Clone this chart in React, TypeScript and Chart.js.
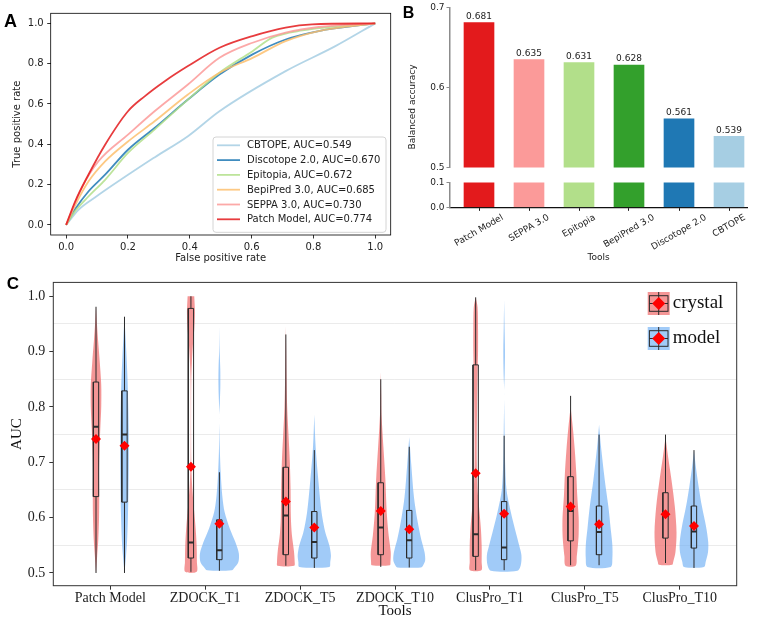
import React, { useEffect, useRef } from 'react';
import { Chart, registerables } from 'chart.js';

Chart.register(...registerables);

const SANS = '"DejaVu Sans", sans-serif';
const SERIF = '"Liberation Serif", "Times New Roman", serif';
const HEAD = '"Liberation Sans", Arial, sans-serif';

// ---------------- Panel A : ROC curves ----------------
const rocNames = ['CBTOPE', 'Discotope 2.0', 'Epitopia', 'BepiPred 3.0', 'SEPPA 3.0', 'Patch Model'];
const rocAuc = ['0.549', '0.670', '0.672', '0.685', '0.730', '0.774'];
const rocColors = [
  'rgba(166,206,227,0.85)',
  'rgba(31,120,180,0.85)',
  'rgba(178,223,138,0.85)',
  'rgba(253,191,111,0.85)',
  'rgba(251,154,153,0.85)',
  'rgba(227,26,28,0.85)',
];
const cbtopeFpr = [0, 0.04, 0.093, 0.286, 0.394, 0.496, 0.71, 0.871, 1];
const cbtopeTpr = [0, 0.075, 0.136, 0.335, 0.44, 0.564, 0.763, 0.887, 1];
const discotopeFpr = [0, 0.03, 0.072, 0.126, 0.2, 0.286, 0.394, 0.496, 0.603, 0.71, 0.817, 1];
const discotopeTpr = [0, 0.08, 0.166, 0.249, 0.373, 0.481, 0.622, 0.746, 0.846, 0.92, 0.962, 1];
const epitopiaFpr = [0, 0.03, 0.072, 0.126, 0.2, 0.286, 0.394, 0.496, 0.603, 0.667, 0.764, 1];
const epitopiaTpr = [0, 0.07, 0.141, 0.224, 0.357, 0.473, 0.622, 0.755, 0.862, 0.929, 0.965, 1];
const bepipredFpr = [0, 0.03, 0.072, 0.126, 0.2, 0.286, 0.394, 0.496, 0.603, 0.71, 0.817, 1];
const bepipredTpr = [0, 0.1, 0.215, 0.315, 0.414, 0.514, 0.647, 0.755, 0.829, 0.912, 0.962, 1];
const seppaFpr = [0, 0.05, 0.104, 0.2, 0.286, 0.394, 0.496, 0.603, 0.71, 0.817, 1];
const seppaTpr = [0, 0.183, 0.315, 0.448, 0.564, 0.697, 0.829, 0.904, 0.954, 0.982, 1];
const patchFpr = [0, 0.029, 0.072, 0.126, 0.2, 0.254, 0.319, 0.394, 0.496, 0.603, 0.71, 0.796, 1];
const patchTpr = [0, 0.116, 0.249, 0.398, 0.564, 0.638, 0.713, 0.788, 0.879, 0.937, 0.979, 0.995, 1];

// ---------------- Panel B : balanced accuracy ----------------
const barTools = ['Patch Model', 'SEPPA 3.0', 'Epitopia', 'BepiPred 3.0', 'Discotope 2.0', 'CBTOPE'];
const barAccuracy = [0.681, 0.635, 0.631, 0.628, 0.561, 0.539];
const barColors = ['#e31a1c', '#fb9a99', '#b2df8a', '#33a02c', '#1f78b4', '#a6cee3'];
const upperRange = [0.5, 0.7];
const lowerRange = [0.0, 0.1];

// ---------------- Panel C : violins ----------------
const violinTools = ['Patch Model', 'ZDOCK_T1', 'ZDOCK_T5', 'ZDOCK_T10', 'ClusPro_T1', 'ClusPro_T5', 'ClusPro_T10'];
const crystalMean = [0.742, 0.692, 0.629, 0.612, 0.68, 0.62, 0.606];
const crystalMedian = [0.764, 0.555, 0.604, 0.582, 0.57, 0.612, 0.603];
const crystalQ1 = [0.638, 0.527, 0.533, 0.533, 0.53, 0.558, 0.563];
const crystalQ3 = [0.845, 0.978, 0.691, 0.663, 0.876, 0.674, 0.645];
const crystalMin = [0.5, 0.502, 0.513, 0.511, 0.505, 0.514, 0.518];
const crystalMax = [0.981, 1.0, 0.931, 0.85, 0.998, 0.82, 0.75];
const modelMean = [0.73, 0.589, 0.582, 0.579, 0.607, 0.588, 0.585];
const modelMedian = [0.75, 0.541, 0.556, 0.559, 0.546, 0.574, 0.575];
const modelQ1 = [0.628, 0.524, 0.527, 0.527, 0.524, 0.533, 0.545];
const modelQ3 = [0.829, 0.596, 0.611, 0.613, 0.629, 0.621, 0.621];
const modelMin = [0.5, 0.504, 0.509, 0.51, 0.505, 0.514, 0.509];
const modelMax = [0.963, 0.682, 0.722, 0.728, 0.748, 0.75, 0.722];

// density half-widths [AUC, half width]
const pmCrystal = [[0.981, 0], [0.95, 0.01], [0.92, 0.022], [0.88, 0.04], [0.84, 0.055], [0.8, 0.055], [0.76, 0.045], [0.72, 0.036], [0.68, 0.032], [0.64, 0.034], [0.6, 0.032], [0.56, 0.024], [0.53, 0.012], [0.5, 0]];
const pmModel = [[0.963, 0], [0.93, 0.01], [0.89, 0.022], [0.85, 0.032], [0.8, 0.04], [0.75, 0.045], [0.7, 0.045], [0.65, 0.042], [0.6, 0.036], [0.56, 0.028], [0.53, 0.016], [0.5, 0]];
const z1Crystal = [[1.0, 0.035], [0.97, 0.042], [0.94, 0.035], [0.91, 0.02], [0.88, 0.01], [0.85, 0.004], [0.8, 0.002], [0.75, 0.002], [0.7, 0.004], [0.66, 0.012], [0.62, 0.03], [0.58, 0.05], [0.55, 0.06], [0.52, 0.063], [0.502, 0.06]];
const z1Model = [[0.946, 0], [0.9, 0.003], [0.87, 0.009], [0.84, 0.01], [0.81, 0.005], [0.785, 0], [0.76, 0.001], [0.72, 0.005], [0.68, 0.014], [0.64, 0.03], [0.61, 0.055], [0.58, 0.11], [0.555, 0.17], [0.535, 0.205], [0.52, 0.2], [0.51, 0.16], [0.505, 0.13]];
const z5Crystal = [[0.946, 0], [0.9, 0.004], [0.85, 0.008], [0.8, 0.014], [0.75, 0.028], [0.7, 0.042], [0.65, 0.05], [0.6, 0.053], [0.57, 0.063], [0.54, 0.085], [0.52, 0.093], [0.513, 0.088]];
const z5Model = [[0.786, 0], [0.727, 0.014], [0.668, 0.042], [0.609, 0.077], [0.573, 0.116], [0.55, 0.158], [0.532, 0.175], [0.52, 0.168], [0.511, 0.158]];
const z10Crystal = [[0.863, 0], [0.82, 0.005], [0.786, 0.008], [0.727, 0.028], [0.668, 0.049], [0.609, 0.063], [0.567, 0.084], [0.538, 0.105], [0.52, 0.102], [0.514, 0.095]];
const z10Model = [[0.745, 0], [0.697, 0.021], [0.638, 0.049], [0.597, 0.084], [0.561, 0.126], [0.538, 0.161], [0.523, 0.168], [0.514, 0.147], [0.51, 0.123]];
const c1Crystal = [[0.998, 0], [0.98, 0.02], [0.94, 0.025], [0.9, 0.025], [0.86, 0.02], [0.8, 0.015], [0.75, 0.012], [0.7, 0.012], [0.65, 0.02], [0.62, 0.035], [0.58, 0.055], [0.55, 0.063], [0.52, 0.063], [0.505, 0.06]];
const c1Model = [[0.993, 0], [0.95, 0.004], [0.9, 0.009], [0.86, 0.006], [0.83, 0], [0.8, 0.001], [0.75, 0.005], [0.7, 0.01], [0.65, 0.025], [0.61, 0.07], [0.573, 0.123], [0.55, 0.158], [0.532, 0.182], [0.514, 0.175], [0.504, 0.14]];
const c5Crystal = [[0.8, 0], [0.76, 0.025], [0.72, 0.045], [0.68, 0.06], [0.64, 0.07], [0.6, 0.085], [0.57, 0.085], [0.55, 0.077], [0.53, 0.065], [0.513, 0.053]];
const c5Model = [[0.768, 0], [0.727, 0.021], [0.668, 0.06], [0.62, 0.098], [0.579, 0.123], [0.55, 0.14], [0.526, 0.14], [0.511, 0.123]];
const c10Crystal = [[0.745, 0], [0.709, 0.028], [0.668, 0.063], [0.62, 0.098], [0.573, 0.116], [0.538, 0.105], [0.52, 0.081], [0.515, 0.07]];
const c10Model = [[0.721, 0], [0.69, 0.021], [0.656, 0.049], [0.62, 0.084], [0.585, 0.126], [0.556, 0.15], [0.538, 0.148], [0.52, 0.123], [0.511, 0.105]];

const crystalProfiles = [pmCrystal, z1Crystal, z5Crystal, z10Crystal, c1Crystal, c5Crystal, c10Crystal];
const modelProfiles = [pmModel, z1Model, z5Model, z10Model, c1Model, c5Model, c10Model];

const CRYSTAL_FILL = 'rgba(240,110,110,0.72)';
const MODEL_FILL = 'rgba(110,175,245,0.65)';

// ---------------- helpers ----------------
const letterPlugin = (text: string, x: number, y: number, size: number) => ({
  id: 'letter' + text,
  afterDraw(chart: any) {
    const ctx = chart.ctx;
    ctx.save();
    ctx.font = `bold ${size}px ${HEAD}`;
    ctx.fillStyle = '#000';
    ctx.textAlign = 'left';
    ctx.textBaseline = 'alphabetic';
    ctx.fillText(text, x, y);
    ctx.restore();
  },
});

const framePlugin = (color: string, width: number) => ({
  id: 'frame',
  afterDraw(chart: any) {
    const { left, top, right, bottom } = chart.chartArea;
    const ctx = chart.ctx;
    ctx.save();
    ctx.strokeStyle = color;
    ctx.lineWidth = width;
    ctx.strokeRect(left, top, right - left, bottom - top);
    ctx.restore();
  },
});

const fix1 = (v: any) => Number(v).toFixed(1);

// ---------------- configs ----------------
function makeRoc() {
  const fprs = [cbtopeFpr, discotopeFpr, epitopiaFpr, bepipredFpr, seppaFpr, patchFpr];
  const tprs = [cbtopeTpr, discotopeTpr, epitopiaTpr, bepipredTpr, seppaTpr, patchTpr];
  const legendPlugin = {
    id: 'rocLegend',
    afterDraw(chart: any) {
      const ca = chart.chartArea;
      const ctx = chart.ctx;
      const w = 173, h = 95.3;
      const x0 = ca.right - 4.7 - w;
      const y0 = ca.bottom - 2.7 - h;
      ctx.save();
      ctx.beginPath();
      if (ctx.roundRect) ctx.roundRect(x0, y0, w, h, 3); else ctx.rect(x0, y0, w, h);
      ctx.fillStyle = 'rgba(255,255,255,0.85)';
      ctx.fill();
      ctx.strokeStyle = '#d4d4d4';
      ctx.lineWidth = 1;
      ctx.stroke();
      ctx.font = `10px ${SANS}`;
      ctx.textBaseline = 'middle';
      ctx.textAlign = 'left';
      chart.data.datasets.forEach((ds: any, i: number) => {
        const y = y0 + 8.3 + i * 14.8;
        ctx.strokeStyle = ds.borderColor;
        ctx.lineWidth = 1.8;
        ctx.beginPath();
        ctx.moveTo(x0 + 4, y);
        ctx.lineTo(x0 + 27, y);
        ctx.stroke();
        ctx.fillStyle = '#222';
        ctx.fillText(ds.label, x0 + 34, y + 0.5);
      });
      ctx.restore();
    },
  };
  const axisCommon = {
    type: 'linear',
    min: -0.05,
    max: 1.05,
    border: { display: false },
    grid: { display: true, drawOnChartArea: false, drawTicks: true, tickLength: 3.5, tickColor: '#000', tickWidth: 0.8 },
  };
  return {
    type: 'line',
    data: {
      datasets: rocNames.map((n, i) => ({
        label: `${n}, AUC=${rocAuc[i]}`,
        data: fprs[i].map((x, j) => ({ x, y: tprs[i][j] })),
        borderColor: rocColors[i],
        backgroundColor: rocColors[i],
        borderWidth: 1.8,
        pointRadius: 0,
        fill: false,
        cubicInterpolationMode: 'monotone',
        order: 6 - i,
      })),
    },
    options: {
      responsive: false,
      animation: false,
      events: [],
      layout: { padding: { top: 13.3, right: 9.3, left: 0, bottom: 0 } },
      plugins: { legend: { display: false }, tooltip: { enabled: false } },
      scales: {
        x: {
          ...axisCommon,
          afterFit: (s: any) => { s.height = 35; },
          ticks: { stepSize: 0.2, includeBounds: false, callback: fix1, font: { family: SANS, size: 10 }, color: '#222', padding: 2.5, maxRotation: 0 },
          title: { display: true, text: 'False positive rate', font: { family: SANS, size: 10 }, color: '#222', padding: { top: 0, bottom: 6 } },
        },
        y: {
          ...axisCommon,
          afterFit: (s: any) => { s.width = 50.7; },
          ticks: { stepSize: 0.2, includeBounds: false, callback: fix1, font: { family: SANS, size: 10 }, color: '#222', padding: 3.5 },
          title: { display: true, text: 'True positive rate', font: { family: SANS, size: 10 }, color: '#222', padding: { top: 11, bottom: 0 } },
        },
      },
    },
    plugins: [framePlugin('#000', 0.8), legendPlugin, letterPlugin('A', 4, 26.7, 18)],
  };
}

const barXScale = {
  type: 'linear',
  min: -0.58,
  max: 5.36,
  offset: false,
};

function makeBarUpper() {
  const valuePlugin = {
    id: 'values',
    afterDatasetsDraw(chart: any) {
      const ctx = chart.ctx;
      const ys = chart.scales.y;
      const meta = chart.getDatasetMeta(0);
      ctx.save();
      ctx.font = `9px ${SANS}`;
      ctx.fillStyle = '#222';
      ctx.textAlign = 'center';
      ctx.textBaseline = 'bottom';
      meta.data.forEach((bar: any, i: number) => {
        ctx.fillText(barAccuracy[i].toFixed(3), bar.x, ys.getPixelForValue(barAccuracy[i]) - 1.5);
      });
      ctx.restore();
    },
  };
  const titlePlugin = {
    id: 'ytitle',
    afterDraw(chart: any) {
      const ctx = chart.ctx;
      ctx.save();
      ctx.translate(13, 107);
      ctx.rotate(-Math.PI / 2);
      ctx.font = `9px ${SANS}`;
      ctx.fillStyle = '#222';
      ctx.textAlign = 'center';
      ctx.textBaseline = 'middle';
      ctx.fillText('Balanced accuracy', 0, 0);
      ctx.restore();
    },
  };
  return {
    type: 'bar',
    data: {
      datasets: [{
        data: barAccuracy.map((v, i) => ({ x: i, y: [upperRange[0], v] })),
        backgroundColor: barColors,
        borderWidth: 0,
        barThickness: 30,
      }],
    },
    options: {
      responsive: false,
      animation: false,
      events: [],
      layout: { padding: { top: 6.7, right: 14, left: 0, bottom: 4.3 } },
      plugins: { legend: { display: false }, tooltip: { enabled: false } },
      scales: {
        x: { ...barXScale, display: false, grid: { offset: false } },
        y: {
          type: 'linear',
          min: upperRange[0],
          max: upperRange[1],
          afterFit: (s: any) => { s.width = 50; },
          border: { display: true, color: '#8c8c8c', width: 1.5 },
          grid: { drawOnChartArea: false, drawTicks: true, tickLength: 3.5, tickColor: '#8c8c8c', tickWidth: 1 },
          ticks: { stepSize: 0.1, includeBounds: false, callback: fix1, font: { family: SANS, size: 9 }, color: '#222', padding: 2 },
        },
      },
    },
    plugins: [valuePlugin, titlePlugin, letterPlugin('B', 2.7, 18.3, 16)],
  };
}

function makeBarLower() {
  const labelPlugin = {
    id: 'rotLabels',
    afterDraw(chart: any) {
      const ctx = chart.ctx;
      const xs = chart.scales.x;
      const ang = Math.PI / 6;
      ctx.save();
      ctx.font = `9px ${SANS}`;
      ctx.fillStyle = '#222';
      ctx.textAlign = 'center';
      ctx.textBaseline = 'middle';
      barTools.forEach((name, i) => {
        const px = xs.getPixelForValue(i);
        const w = ctx.measureText(name).width;
        const bh = w * Math.sin(ang) + 9 * Math.cos(ang);
        const cy = chart.chartArea.bottom + 5.7 + bh / 2;
        ctx.save();
        ctx.translate(px, cy);
        ctx.rotate(-ang);
        ctx.fillText(name, 0, 0);
        ctx.restore();
      });
      ctx.restore();
    },
  };
  return {
    type: 'bar',
    data: {
      datasets: [{
        data: barAccuracy.map((_, i) => ({ x: i, y: [lowerRange[0], lowerRange[1]] })),
        backgroundColor: barColors,
        borderWidth: 0,
        barThickness: 30,
      }],
    },
    options: {
      responsive: false,
      animation: false,
      events: [],
      layout: { padding: { top: 5, right: 14, left: 0, bottom: 0 } },
      plugins: { legend: { display: false }, tooltip: { enabled: false } },
      scales: {
        x: {
          ...barXScale,
          afterFit: (s: any) => { s.height = 62.7; },
          border: { display: true, color: '#111', width: 1.2 },
          grid: { offset: false, drawOnChartArea: false, drawTicks: true, tickLength: 3.5, tickColor: '#111', tickWidth: 1 },
          ticks: { stepSize: 1, includeBounds: false, display: false },
          title: { display: true, text: 'Tools', font: { family: SANS, size: 9 }, color: '#222', padding: { top: 0, bottom: 6.6 } },
        },
        y: {
          type: 'linear',
          min: lowerRange[0],
          max: lowerRange[1],
          afterFit: (s: any) => { s.width = 50; },
          border: { display: true, color: '#8c8c8c', width: 1.5 },
          grid: { drawOnChartArea: false, drawTicks: true, tickLength: 3.5, tickColor: '#8c8c8c', tickWidth: 1 },
          ticks: { stepSize: 0.1, includeBounds: false, callback: fix1, font: { family: SANS, size: 9 }, color: '#222', padding: 2 },
        },
      },
    },
    plugins: [labelPlugin],
  };
}

const SIDE_OFFSET = 0.15;
const BOX_HALF = 0.028;

function groupDatasets(profiles: number[][][], q1: number[], med: number[], q3: number[], lo: number[], hi: number[], offset: number, fillColor: string) {
  const sets: any[] = [];
  const seg = (data: any[], width: number, order: number) => ({
    data, borderColor: '#2b2b2b', borderWidth: width, pointRadius: 0, fill: false, tension: 0, order,
  });
  profiles.forEach((prof, i) => {
    const c = i + 1 + offset;
    const leftSide = prof.map(([y, hw]) => ({ x: c - hw, y }));
    const rightSide = prof.slice().reverse().map(([y, hw]) => ({ x: c + hw, y }));
    sets.push({
      data: [...leftSide, ...rightSide],
      fill: 'shape',
      backgroundColor: fillColor,
      borderColor: 'rgba(0,0,0,0)',
      borderWidth: 0,
      pointRadius: 0,
      tension: 0.3,
      order: 10,
    });
    sets.push(seg([{ x: c, y: lo[i] }, { x: c, y: q1[i] }], 1, 4));
    sets.push(seg([{ x: c, y: q3[i] }, { x: c, y: hi[i] }], 1, 4));
    sets.push(seg([
      { x: c - BOX_HALF, y: q1[i] }, { x: c + BOX_HALF, y: q1[i] }, { x: c + BOX_HALF, y: q3[i] },
      { x: c - BOX_HALF, y: q3[i] }, { x: c - BOX_HALF, y: q1[i] },
    ], 1, 3));
    sets.push(seg([{ x: c - BOX_HALF, y: med[i] }, { x: c + BOX_HALF, y: med[i] }], 2, 2));
  });
  return sets;
}

function makeViolin() {
  const meanSet = (vals: number[], offset: number) => ({
    data: vals.map((m, i) => ({ x: i + 1 + offset, y: m })),
    showLine: false,
    pointStyle: 'rectRot',
    pointRadius: 5,
    pointBackgroundColor: '#ff0000',
    pointBorderColor: '#ff0000',
    pointBorderWidth: 0,
    backgroundColor: '#ff0000',
    borderColor: '#ff0000',
    order: 0,
  });
  const legendPlugin = {
    id: 'violinLegend',
    afterDraw(chart: any) {
      const ca = chart.chartArea;
      const ctx = chart.ctx;
      const items = [
        { label: 'crystal', color: CRYSTAL_FILL, dy: 9.6 },
        { label: 'model', color: MODEL_FILL, dy: 44.6 },
      ];
      ctx.save();
      items.forEach((it) => {
        const x0 = ca.right - 89;
        const y0 = ca.top + it.dy;
        ctx.fillStyle = it.color;
        ctx.fillRect(x0, y0, 22, 23);
        ctx.strokeStyle = '#2b2b2b';
        ctx.lineWidth = 1;
        ctx.strokeRect(x0 + 1.7, y0 + 3.7, 18.6, 15.6);
        ctx.beginPath();
        ctx.moveTo(x0 + 11, y0);
        ctx.lineTo(x0 + 11, y0 + 23);
        ctx.moveTo(x0 + 1.7, y0 + 11.5);
        ctx.lineTo(x0 + 20.3, y0 + 11.5);
        ctx.stroke();
        ctx.fillStyle = '#ff0000';
        ctx.beginPath();
        ctx.moveTo(x0 + 11, y0 + 11.5 - 6.5);
        ctx.lineTo(x0 + 11 + 6.5, y0 + 11.5);
        ctx.lineTo(x0 + 11, y0 + 11.5 + 6.5);
        ctx.lineTo(x0 + 11 - 6.5, y0 + 11.5);
        ctx.closePath();
        ctx.fill();
        ctx.fillStyle = '#111';
        ctx.font = `19px ${SERIF}`;
        ctx.textAlign = 'left';
        ctx.textBaseline = 'alphabetic';
        ctx.fillText(it.label, x0 + 25, y0 + 15.5);
      });
      ctx.restore();
    },
  };
  const isMajor = (v: number) => Math.abs(v * 10 - Math.round(v * 10)) < 1e-6;
  return {
    type: 'line',
    data: {
      datasets: [
        ...groupDatasets(crystalProfiles, crystalQ1, crystalMedian, crystalQ3, crystalMin, crystalMax, -SIDE_OFFSET, CRYSTAL_FILL),
        ...groupDatasets(modelProfiles, modelQ1, modelMedian, modelQ3, modelMin, modelMax, SIDE_OFFSET, MODEL_FILL),
        meanSet(crystalMean, -SIDE_OFFSET),
        meanSet(modelMean, SIDE_OFFSET),
      ],
    },
    options: {
      responsive: false,
      animation: false,
      events: [],
      layout: { padding: { top: 6.7, right: 24.3, left: 0, bottom: 0 } },
      plugins: { legend: { display: false }, tooltip: { enabled: false } },
      scales: {
        x: {
          type: 'linear',
          min: 0.4,
          max: 7.6,
          afterFit: (s: any) => { s.height = 35.3; },
          border: { display: false },
          grid: { drawOnChartArea: false, drawTicks: true, tickLength: 4, tickColor: '#333', tickWidth: 1 },
          ticks: {
            stepSize: 1,
            includeBounds: false,
            autoSkip: false,
            maxRotation: 0,
            callback: (v: any) => violinTools[Math.round(Number(v)) - 1] ?? '',
            font: { family: SERIF, size: 14 },
            color: '#222',
            padding: 0,
          },
          title: { display: true, text: 'Tools', font: { family: SERIF, size: 15 }, color: '#111', padding: { top: 0, bottom: 1 } },
        },
        y: {
          type: 'linear',
          min: 0.477,
          max: 1.025,
          afterFit: (s: any) => { s.width = 53.3; },
          border: { display: false },
          grid: {
            drawOnChartArea: true,
            drawTicks: true,
            tickLength: 4,
            color: (c: any) => (c.tick && isMajor(c.tick.value) ? 'rgba(0,0,0,0)' : '#ebebeb'),
            tickColor: (c: any) => (c.tick && isMajor(c.tick.value) ? '#333' : 'rgba(0,0,0,0)'),
            lineWidth: 1,
          },
          ticks: {
            stepSize: 0.05,
            includeBounds: false,
            autoSkip: false,
            callback: (v: any) => (isMajor(Number(v)) ? Number(v).toFixed(1) : ''),
            font: { family: SERIF, size: 14 },
            color: '#222',
            padding: 4,
          },
          title: { display: true, text: 'AUC', font: { family: SERIF, size: 15 }, color: '#111', padding: { top: 8, bottom: 0 } },
        },
      },
    },
    plugins: [framePlugin('#333', 1), legendPlugin, letterPlugin('C', 6.7, 19.3, 17)],
  };
}

function ChartCanvas(props: { left: number; top: number; width: number; height: number; make: () => any }) {
  const ref = useRef<HTMLCanvasElement | null>(null);
  useEffect(() => {
    if (!ref.current) return;
    const chart = new Chart(ref.current, props.make());
    return () => chart.destroy();
  }, []);
  return (
    <canvas
      ref={ref}
      width={props.width}
      height={props.height}
      style={{ position: 'absolute', left: props.left, top: props.top, width: props.width, height: props.height }}
    />
  );
}

export default function App() {
  return (
    <div style={{ position: 'absolute', left: 0, top: 0, width: 761, height: 621, background: '#fff', overflow: 'hidden' }}>
      <ChartCanvas left={0} top={0} width={400} height={270} make={makeRoc} />
      <ChartCanvas left={400} top={0} width={361} height={175} make={makeBarUpper} />
      <ChartCanvas left={400} top={175} width={361} height={95} make={makeBarLower} />
      <ChartCanvas left={0} top={270} width={761} height={351} make={makeViolin} />
    </div>
  );
}
